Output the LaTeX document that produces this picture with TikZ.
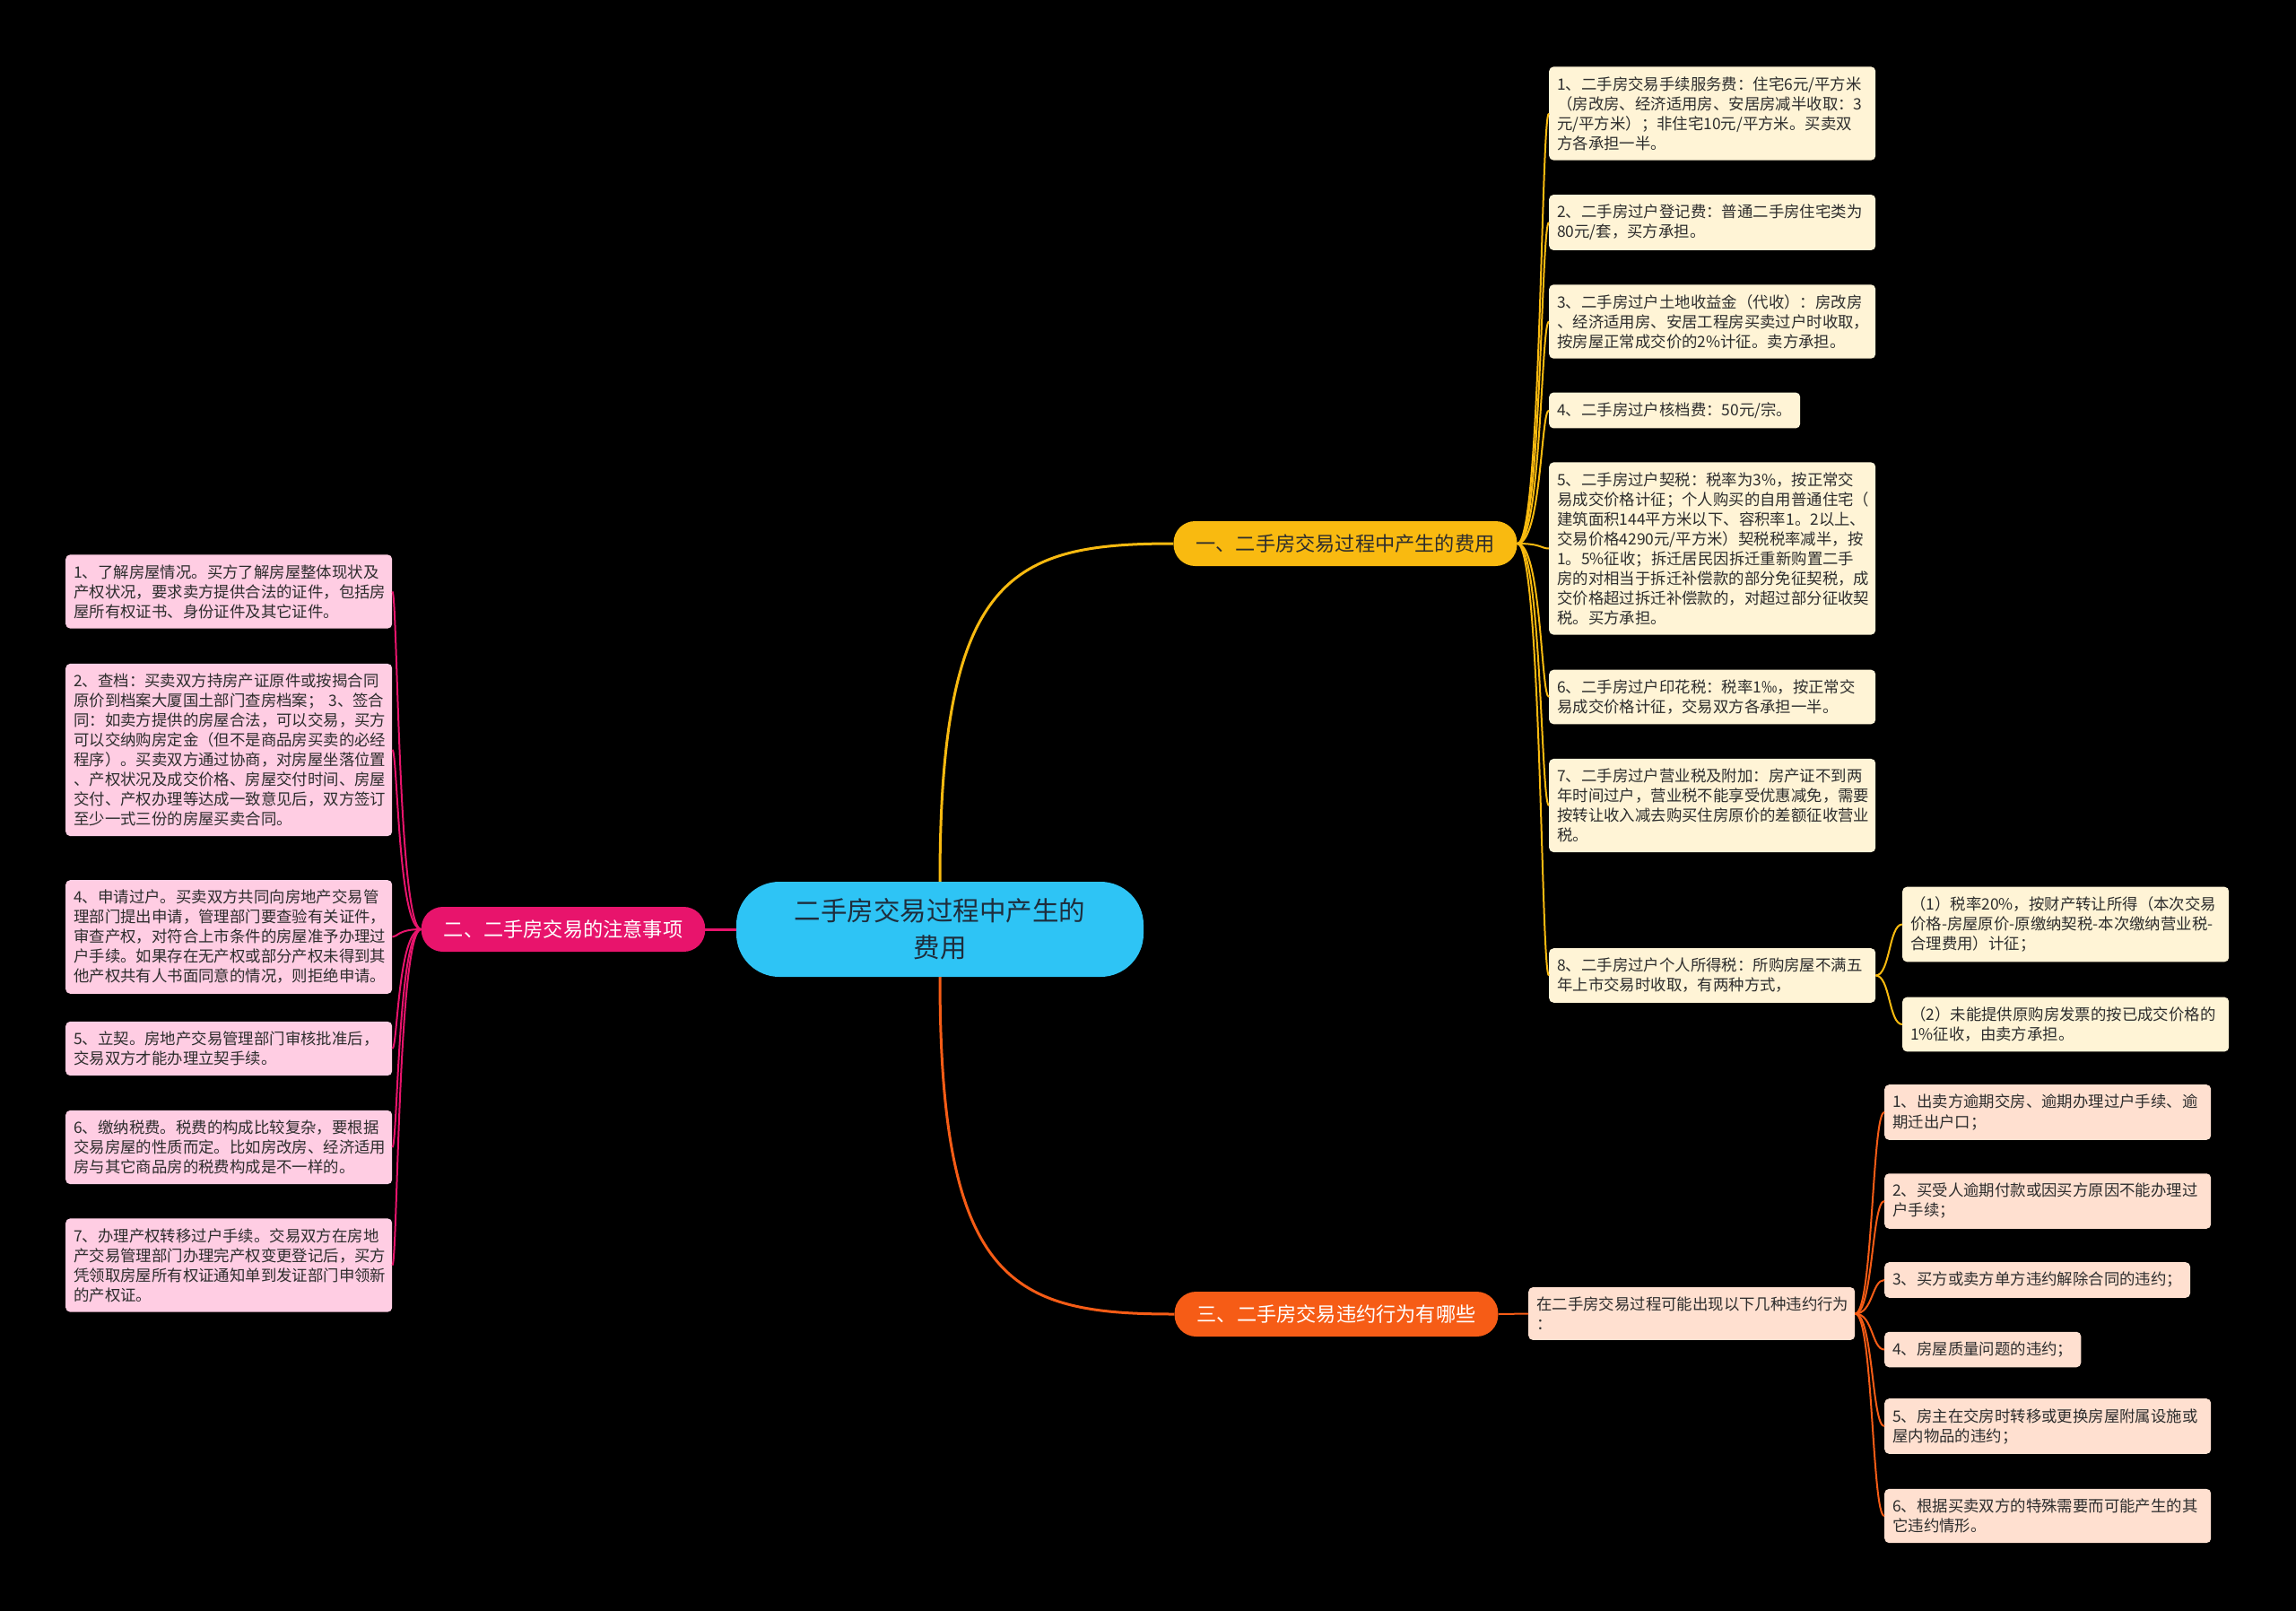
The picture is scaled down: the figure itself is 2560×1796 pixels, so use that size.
\documentclass[tikz,border=0pt]{standalone}
\usepackage{fontspec}
\setmainfont{Noto Sans CJK SC}
\usepackage{tikz}
\usetikzlibrary{calc,positioning}
\definecolor{mapbg}{RGB}{0,0,0}
\definecolor{mapcyan}{RGB}{46,196,245}
\definecolor{mapyellow}{RGB}{249,186,16}
\definecolor{mappink}{RGB}{232,20,108}
\definecolor{maporange}{RGB}{246,92,22}
\definecolor{yleaf}{RGB}{255,244,214}
\definecolor{pleaf}{RGB}{255,205,227}
\definecolor{oleaf}{RGB}{255,224,208}
\definecolor{leaftext}{RGB}{45,45,45}
\definecolor{roottext}{RGB}{30,45,60}

\begin{document}
\begin{tikzpicture}[x=1pt, y=-1pt,
    root/.style={fill=mapcyan, rounded corners=48pt, minimum width=454pt, minimum height=106pt,
        align=center, text=roottext, font=\fontsize{29.5}{41}\selectfont},
    branch/.style={fill=#1, rounded corners=24pt, minimum height=50pt, inner xsep=25pt,
        font=\fontsize{22.2}{26}\selectfont},
    notebox/.style={fill=#1, rounded corners=5pt, anchor=west, align=left, inner xsep=9pt,
        inner ysep=11pt, text=leaftext, font=\fontsize{17.4}{22}\selectfont},
    note/.style={notebox=#1, text width=346pt},
    ylink/.style={draw=mapyellow, line width=2pt},
    plink/.style={draw=mappink, line width=2pt},
    olink/.style={draw=maporange, line width=2pt}]

    % Background
    \fill[mapbg] (0,0) rectangle (2560,1796);

    % Root and main branches
    \node[root] (root) at (1048,1036) {二手房交易过程中产生的\\费用};
    \node[branch=mapyellow, text=leaftext] (fee) at (1500,606) {一、二手房交易过程中产生的费用};
    \node[branch=mappink, text=white] (tips) at (628,1036) {二、二手房交易的注意事项};
    \node[branch=maporange, text=white] (breach) at (1490,1465) {三、二手房交易违约行为有哪些};

    % Fees
    \node[note=yleaf] (fee1) at (1727,126.5) {1、二手房交易手续服务费：住宅6元/平方米\\（房改房、经济适用房、安居房减半收取：3\\元/平方米）；非住宅10元/平方米。买卖双\\方各承担一半。};
    \node[note=yleaf] (fee2) at (1727,248) {2、二手房过户登记费：普通二手房住宅类为\\80元/套，买方承担。};
    \node[note=yleaf] (fee3) at (1727,358.5) {3、二手房过户土地收益金（代收）：房改房\\、经济适用房、安居工程房买卖过户时收取，\\按房屋正常成交价的2\%计征。卖方承担。};
    \node[notebox=yleaf] (fee4) at (1727,457.5) {4、二手房过户核档费：50元/宗。};
    \node[note=yleaf] (fee5) at (1727,611.5) {5、二手房过户契税：税率为3\%，按正常交\\易成交价格计征；个人购买的自用普通住宅（\\建筑面积144平方米以下、容积率1。2以上、\\交易价格4290元/平方米）契税税率减半，按\\1。5\%征收；拆迁居民因拆迁重新购置二手\\房的对相当于拆迁补偿款的部分免征契税，成\\交价格超过拆迁补偿款的，对超过部分征收契\\税。买方承担。};
    \node[note=yleaf] (fee6) at (1727,777) {6、二手房过户印花税：税率1‰，按正常交\\易成交价格计征，交易双方各承担一半。};
    \node[note=yleaf] (fee7) at (1727,898) {7、二手房过户营业税及附加：房产证不到两\\年时间过户，营业税不能享受优惠减免，需要\\按转让收入减去购买住房原价的差额征收营业\\税。};
    \node[note=yleaf] (fee8) at (1727,1087.5) {8、二手房过户个人所得税：所购房屋不满五\\年上市交易时收取，有两种方式，};
    \node[note=yleaf] (tax1) at (2121,1030.5) {（1）税率20\%，按财产转让所得（本次交易\\价格-房屋原价-原缴纳契税-本次缴纳营业税-\\合理费用）计征；};
    \node[note=yleaf] (tax2) at (2121,1142) {（2）未能提供原购房发票的按已成交价格的\\1\%征收，由卖方承担。};

    % Tips
    \node[note=pleaf] (tip1) at (73,659.5) {1、了解房屋情况。买方了解房屋整体现状及\\产权状况，要求卖方提供合法的证件，包括房\\屋所有权证书、身份证件及其它证件。};
    \node[note=pleaf] (tip2) at (73,836) {2、查档：买卖双方持房产证原件或按揭合同\\原价到档案大厦国土部门查房档案；~3、签合\\同：如卖方提供的房屋合法，可以交易，买方\\可以交纳购房定金（但不是商品房买卖的必经\\程序）。买卖双方通过协商，对房屋坐落位置\\、产权状况及成交价格、房屋交付时间、房屋\\交付、产权办理等达成一致意见后，双方签订\\至少一式三份的房屋买卖合同。};
    \node[note=pleaf] (tip3) at (73,1044.5) {4、申请过户。买卖双方共同向房地产交易管\\理部门提出申请，管理部门要查验有关证件，\\审查产权，对符合上市条件的房屋准予办理过\\户手续。如果存在无产权或部分产权未得到其\\他产权共有人书面同意的情况，则拒绝申请。};
    \node[note=pleaf] (tip4) at (73,1169) {5、立契。房地产交易管理部门审核批准后，\\交易双方才能办理立契手续。};
    \node[note=pleaf] (tip5) at (73,1279) {6、缴纳税费。税费的构成比较复杂，要根据\\交易房屋的性质而定。比如房改房、经济适用\\房与其它商品房的税费构成是不一样的。};
    \node[note=pleaf] (tip6) at (73,1410.5) {7、办理产权转移过户手续。交易双方在房地\\产交易管理部门办理完产权变更登记后，买方\\凭领取房屋所有权证通知单到发证部门申领新\\的产权证。};

    % Breaches
    \node[note=oleaf] (kinds) at (1704,1464.5) {在二手房交易过程可能出现以下几种违约行为\\：};
    \node[note=oleaf] (brk1) at (2101,1240) {1、出卖方逾期交房、逾期办理过户手续、逾\\期迁出户口；};
    \node[note=oleaf] (brk2) at (2101,1339) {2、买受人逾期付款或因买方原因不能办理过\\户手续；};
    \node[notebox=oleaf] (brk3) at (2101,1427) {3、买方或卖方单方违约解除合同的违约；};
    \node[notebox=oleaf] (brk4) at (2101,1504.5) {4、房屋质量问题的违约；};
    \node[note=oleaf] (brk5) at (2101,1590) {5、房主在交房时转移或更换房屋附属设施或\\屋内物品的违约；};
    \node[note=oleaf] (brk6) at (2101,1690) {6、根据买卖双方的特殊需要而可能产生的其\\它违约情形。};

    % Links from the root
    \draw[ylink, line width=3pt] (root.north) .. controls +(0,-343) and +(-180,0) .. (fee.west);
    \draw[olink, line width=3pt] (root.south) .. controls +(0,343) and +(-180,0) .. (breach.west);
    \draw[plink, line width=3pt] (root.west) -- (tips.east);

    % Links to the items
    \foreach \n in {fee1,fee2,fee3,fee4,fee5,fee6,fee7,fee8}
        \draw[ylink] (fee.east) .. controls +(27,0) and +(-9,0) .. (\n.west);
    \foreach \n in {tax1,tax2}
        \draw[ylink] (fee8.east) .. controls +(16,0) and +(-15,0) .. (\n.west);
    \foreach \n in {tip1,tip2,tip3,tip4,tip5,tip6}
        \draw[plink] (tips.west) .. controls +(-26,0) and +(6,0) .. (\n.east);
    \draw[olink] (breach.east) -- (kinds.west);
    \foreach \n in {brk1,brk2,brk3,brk4,brk5,brk6}
        \draw[olink] (kinds.east) .. controls +(20,0) and +(-14,0) .. (\n.west);
\end{tikzpicture}
\end{document}
